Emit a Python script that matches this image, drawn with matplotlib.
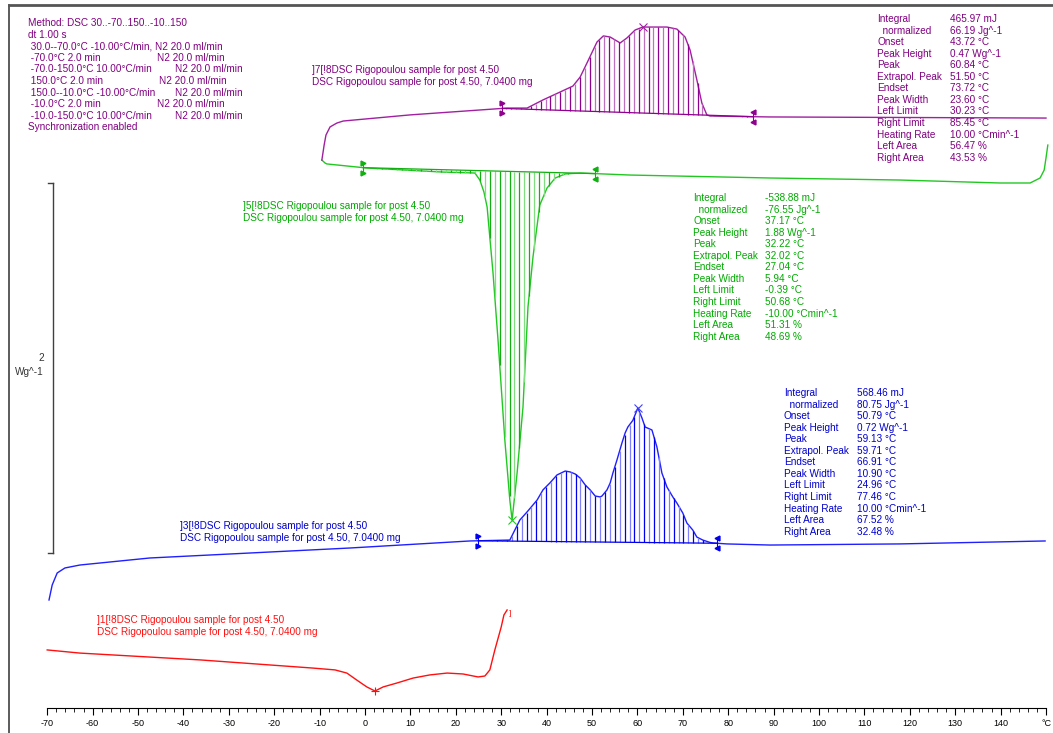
import numpy as np
import matplotlib.pyplot as plt

plt.rcParams['font.family'] = ['Liberation Sans', 'DejaVu Sans']

# ---- curves: temperature (°C) and stacked heat flow (Wg^-1, offset per curve)
red_T = [-70.0, -62.8, -36.3, -11.5, -6.6, -4.0, -1.8, 0.4, 2.2, 4.0, 7.0, 10.6,
         14.3, 18.1, 21.6, 24.9, 26.4, 27.5, 28.6, 30.0, 30.6, 31.3]
red_y = [0.449, 0.432, 0.395, 0.351, 0.341, 0.324, 0.286, 0.249, 0.227, 0.249, 0.270, 0.297,
         0.314, 0.324, 0.319, 0.303, 0.308, 0.341, 0.449, 0.573, 0.638, 0.665]

blue_T = [-69.6, -68.9, -67.8, -66.1, -62.8, -47.4, -25.3, -3.3, 23.1, 31.9, 33.0, 34.1,
          35.7, 37.9, 39.2, 40.7, 42.3, 44.1, 45.2, 46.3, 47.4, 48.5, 49.6, 50.7, 51.8, 52.2,
          53.3, 54.0, 54.6, 55.5, 56.6, 57.3, 57.9, 59.0, 60.1, 61.0, 61.7, 63.2, 64.3, 65.4,
          66.5, 67.8, 68.7, 70.0, 70.9, 72.2, 73.1, 74.4, 76.0, 76.7, 79.7, 89.2, 117.8, 149.8]
blue_y = [0.719, 0.800, 0.865, 0.892, 0.908, 0.946, 0.973, 1.000, 1.038, 1.043, 1.097, 1.151,
          1.195, 1.259, 1.314, 1.351, 1.395, 1.416, 1.411, 1.400, 1.378, 1.341, 1.314, 1.281, 1.276, 1.281,
          1.314, 1.351, 1.405, 1.476, 1.568, 1.622, 1.654, 1.690, 1.757, 1.703, 1.654, 1.638, 1.546, 1.405,
          1.330, 1.276, 1.243, 1.189, 1.135, 1.097, 1.059, 1.043, 1.030, 1.027, 1.022, 1.016, 1.022, 1.038]

green_T = [-9.5, -8.8, -8.4, 0.4, 17.2, 24.2, 25.3, 26.2, 26.9, 28.2, 29.3, 30.8, 31.9, 32.4,
           33.5, 34.8, 35.9, 37.0, 38.5, 40.1, 41.9, 44.1, 47.4, 58.4, 89.2, 117.8, 139.9,
           146.5, 148.7, 149.6, 150.0, 150.4]
green_y = [3.097, 3.081, 3.076, 3.054, 3.032, 3.027, 2.989, 2.924, 2.843, 2.486, 2.124, 1.584,
           1.259, 1.151, 1.405, 1.762, 2.303, 2.573, 2.854, 2.946, 3.000, 3.022, 3.027, 3.016,
           3.000, 2.989, 2.973, 2.973, 3.000, 3.043, 3.108, 3.178]

purple_T = [-9.5, -9.0, -8.6, -7.7, -6.2, -4.8, 9.9, 31.3, 35.7, 39.2, 43.0, 45.8, 47.4, 48.9,
            51.1, 52.5, 54.0, 56.2, 57.7, 59.5, 61.2, 66.5, 68.7, 70.5, 71.6, 73.1, 74.2, 75.3,
            76.0, 89.2, 150.0]
purple_y = [3.097, 3.178, 3.232, 3.276, 3.297, 3.308, 3.341, 3.378, 3.378, 3.422, 3.465, 3.497,
            3.546, 3.622, 3.735, 3.768, 3.762, 3.730, 3.757, 3.800, 3.816, 3.816, 3.805, 3.762,
            3.692, 3.530, 3.405, 3.341, 3.335, 3.330, 3.324]

# evaluation limits (°C)
blue_lim = (24.96, 77.46)
green_lim = (-0.39, 50.68)
purple_lim = (30.23, 85.45)

stat_names = ["Integral", "  normalized", "Onset", "Peak Height", "Peak", "Extrapol. Peak",
              "Endset", "Peak Width", "Left Limit", "Right Limit", "Heating Rate",
              "Left Area", "Right Area"]
purple_stats = ["465.97 mJ", "66.19 Jg^-1", "43.72 °C", "0.47 Wg^-1", "60.84 °C", "51.50 °C",
                "73.72 °C", "23.60 °C", "30.23 °C", "85.45 °C", "10.00 °Cmin^-1",
                "56.47 %", "43.53 %"]
green_stats = ["-538.88 mJ", "-76.55 Jg^-1", "37.17 °C", "1.88 Wg^-1", "32.22 °C", "32.02 °C",
               "27.04 °C", "5.94 °C", "-0.39 °C", "50.68 °C", "-10.00 °Cmin^-1",
               "51.31 %", "48.69 %"]
blue_stats = ["568.46 mJ", "80.75 Jg^-1", "50.79 °C", "0.72 Wg^-1", "59.13 °C", "59.71 °C",
              "66.91 °C", "10.90 °C", "24.96 °C", "77.46 °C", "10.00 °Cmin^-1",
              "67.52 %", "32.48 %"]

method_lines = [("Method: DSC 30..-70..150..-10..150", ""),
                ("dt 1.00 s", ""),
                (" 30.0--70.0°C -10.00°C/min, N2 20.0 ml/min", ""),
                (" -70.0°C 2.0 min", "N2 20.0 ml/min"),
                (" -70.0-150.0°C 10.00°C/min", "N2 20.0 ml/min"),
                (" 150.0°C 2.0 min", "N2 20.0 ml/min"),
                (" 150.0--10.0°C -10.00°C/min", "N2 20.0 ml/min"),
                (" -10.0°C 2.0 min", "N2 20.0 ml/min"),
                (" -10.0-150.0°C 10.00°C/min", "N2 20.0 ml/min"),
                ("Synchronization enabled", "")]
method_col2 = [0, 0, 0, 157, 175, 159, 175, 157, 175, 0]

sample = "DSC Rigopoulou sample for post 4.50"
tick_vals = list(range(-70, 151, 10))
tick_text = [str(v) for v in tick_vals[:-1]] + ["°C"]
scale_len = 2.0   # Wg^-1

W, H = 1053, 733
PXC = 4.54          # px per °C
X0 = 365            # px of 0 °C
PXW = 185           # px per Wg^-1
FS = 7.2

fig = plt.figure(figsize=(W / 100, H / 100), dpi=100)
ax = fig.add_axes([0, 0, 1, 1])
ax.set_xlim(-X0 / PXC, (W - X0) / PXC)
ax.set_ylim(0, H / PXW)
for s in ['top', 'left', 'right']:
    ax.spines[s].set_visible(False)
ax.set_yticks([])


def P(px, py):
    return px / W, 1 - py / H


def hatch(T, y, lim, col, light):
    lo, hi = lim
    b0, b1 = np.interp(lo, T, y), np.interp(hi, T, y)
    xs = np.arange(lo + 0.9, hi - 0.3, 1.08)
    base = b0 + (xs - lo) * (b1 - b0) / (hi - lo)
    cur = np.interp(xs, T, y)
    cols = [col if i % 2 else light for i in range(len(xs))]
    ax.vlines(xs, np.minimum(base, cur), np.maximum(base, cur), colors=cols, lw=0.9)
    ax.plot([lo, hi], [b0, b1], color=col, lw=0.9)
    d = 5 / PXW
    for xv, bv, m in [(lo, b0, '>'), (hi, b1, '<')]:
        ax.plot([xv, xv], [bv - d, bv + d], color=col, lw=0.8)
        ax.plot([xv, xv], [bv - d, bv + d], ls='none', marker=m, ms=3.5, color=col)


# curves
ax.plot(red_T, red_y, color='#ff1010', lw=1.0)
ax.plot(blue_T, blue_y, color='#2020ff', lw=1.0)
ax.plot(green_T, green_y, color='#22c822', lw=1.0)
ax.plot(purple_T, purple_y, color='#a020a0', lw=1.0)

hatch(blue_T, blue_y, blue_lim, '#0000ee', '#8080ff')
hatch(green_T, green_y, green_lim, '#10b010', '#80dd80')
hatch(purple_T, purple_y, purple_lim, '#900090', '#c070c0')

# peak markers
i = int(np.argmax(blue_y)); ax.plot(blue_T[i], blue_y[i], 'x', color='#4040ff', ms=6, mew=0.8)
i = int(np.argmin(green_y)); ax.plot(green_T[i], green_y[i], 'x', color='#22c822', ms=6, mew=0.8)
i = int(np.argmax(purple_y)); ax.plot(purple_T[i], purple_y[i], 'x', color='#a020a0', ms=6, mew=0.8)
i = int(np.argmin(red_y)); ax.plot(red_T[i], red_y[i], '+', color='#ff1010', ms=6, mew=0.8)
ax.text(red_T[-1] + 0.3, red_y[-1] - 0.02, "]", color='#ff1010', fontsize=6, va='center')

# x axis
ax.spines['bottom'].set_position(('data', (H - 708) / PXW))
ax.spines['bottom'].set_bounds(-70, 150)
ax.set_xticks(tick_vals)
ax.set_xticklabels(tick_text)
ax.set_xticks(np.arange(-70, 151, 2), minor=True)
ax.tick_params(axis='x', which='major', length=5, width=0.8, labelsize=6.5, pad=3)
ax.tick_params(axis='x', which='minor', length=3, width=0.6)

# scale bar
sx = (53 - X0) / PXC
sb = (H - 553) / PXW
ax.plot([sx, sx], [sb, sb + scale_len], color='#404040', lw=1.0)
for yy in (sb, sb + scale_len):
    ax.plot([sx - 1.0, sx], [yy, yy], color='#404040', lw=1.0)
ax.text(*P(44, 358), "2", transform=ax.transAxes, fontsize=FS, color='#333333', ha='right', va='center')
ax.text(*P(44, 372), "Wg^-1", transform=ax.transAxes, fontsize=FS, color='#333333', ha='right', va='center')

# frame
fig.add_artist(plt.Line2D([9 / W, 9 / W], [0, 1 - 5 / H], color='#404040', lw=1.2))
fig.add_artist(plt.Line2D([9 / W, 1], [1 - 5 / H, 1 - 5 / H], color='#555555', lw=2.0))

# method text
for k, (a, b) in enumerate(method_lines):
    yy = 23 + k * 11.6
    ax.text(*P(28, yy), a, transform=ax.transAxes, fontsize=FS, color='#800080', va='center')
    if b:
        ax.text(*P(method_col2[k], yy), b, transform=ax.transAxes, fontsize=FS,
                color='#800080', va='center')

# stats blocks
for stats, x1, x2, y0, col in [(purple_stats, 877, 950, 19, '#800080'),
                               (green_stats, 693, 765, 198, '#00aa00'),
                               (blue_stats, 784, 857, 393, '#0000cc')]:
    for k, (n, v) in enumerate(zip(stat_names, stats)):
        yy = y0 + k * 11.55
        ax.text(*P(x1, yy), n, transform=ax.transAxes, fontsize=FS, color=col, va='center')
        ax.text(*P(x2, yy), v, transform=ax.transAxes, fontsize=FS, color=col, va='center')

# curve labels
for num, x, y, col in [(7, 312, 70, '#800080'), (5, 243, 206, '#00aa00'),
                       (3, 180, 526, '#0000cc'), (1, 97, 620, '#ff1010')]:
    ax.text(*P(x, y), "]%d[!8%s" % (num, sample), transform=ax.transAxes, fontsize=FS,
            color=col, va='center')
    ax.text(*P(x, y + 12), sample + ", 7.0400 mg", transform=ax.transAxes, fontsize=FS,
            color=col, va='center')

fig.savefig("out.png", dpi=100)
